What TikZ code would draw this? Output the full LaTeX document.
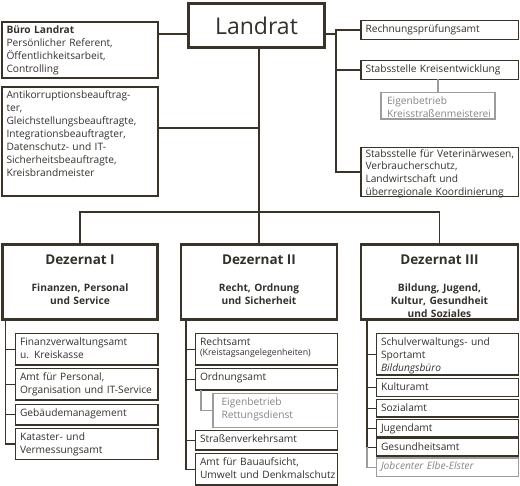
\documentclass[tikz,border=0pt]{standalone}
\usepackage{fontspec}
\setmainfont{Open Sans}
\definecolor{dk}{HTML}{3A3327}
\definecolor{txt}{HTML}{33312C}
\definecolor{gr}{HTML}{9C9C9C}
\definecolor{grt}{HTML}{858585}
\tikzset{
  base/.style={draw=dk, text=txt, font=\fontsize{10.2}{13}\selectfont, inner xsep=4.5pt, inner ysep=3pt, outer sep=0pt, align=left},
  sub/.style={base, line width=1.3pt},
  side/.style={base, line width=2pt},
  grbox/.style={base, draw=gr, text=grt, line width=1.2pt},
  dezbox/.style={base, line width=2.7pt, align=center},
  chief/.style={draw=dk, text=txt, line width=3.3pt, font=\fontsize{23}{26}\selectfont, outer sep=0pt, inner sep=0pt},
  conn/.style={draw=dk, line width=1.1pt},
  gconn/.style={draw=gr, line width=1.1pt},
}
% #1 text height, #2 style, #3 name, #4 x1, #5 y1, #6 x2, #7 y2, #8 text
\newcommand\OrgBox[8][9]{%
  \pgfmathsetmacro\obW{#6-#4}%
  \pgfmathsetmacro\obH{#7-#5}%
  \pgfmathsetmacro\obTW{#6-#4-9}%
  \pgfmathsetmacro\obD{#7-#5-6-#1}%
  \node[#2, anchor=north west, minimum width=\obW pt, minimum height=\obH pt,
        text width=\obTW pt, text height=#1pt, text depth=\obD pt] (#3) at (#4,#5) {#8};}
\newcommand\DezTitle[1]{{\fontsize{13.5}{16}\selectfont\bfseries #1}}
\begin{document}
\begin{tikzpicture}[x=1pt,y=-1pt]
\useasboundingbox (0,0) rectangle (520,486);
% top level
\node[chief, anchor=north west, minimum width=135.6pt, minimum height=43.6pt] (landrat) at (188.7,3.7) {Landrat};
\OrgBox{side}{buero}{2}{22}{158}{78}{\textbf{Büro Landrat}\\Persönlicher Referent,\\Öffentlichkeitsarbeit,\\Controlling}
\OrgBox{side}{anti}{2}{87}{158}{196.5}{Antikorruptionsbeauftrag-\\ter,\\Gleichstellungsbeauftragte,\\Integrationsbeauftragter,\\Datenschutz- und IT-\\Sicherheitsbeauftragte,\\Kreisbrandmeister}
\OrgBox{sub}{rech}{361}{20.5}{518.5}{39.5}{Rechnungsprüfungsamt}
\OrgBox{sub}{kreis}{361}{60.5}{518.5}{79.5}{Stabsstelle Kreisentwicklung}
\OrgBox{grbox}{strm}{381}{92.5}{495}{119}{\hspace*{1.5pt}Eigenbetrieb\\\hspace*{1.5pt}\mbox{Kreisstraßenmeisterei}}
\OrgBox[7]{sub}{vet}{361}{147.5}{518.5}{196.5}{\fontsize{10.2}{12.3}\selectfont \mbox{Stabsstelle für Veterinärwesen,}\\Verbraucherschutz,\\Landwirtschaft und\\\mbox{überregionale Koordinierung}}
% Dezernate
\OrgBox[17]{dezbox}{dez1}{2.3}{244.3}{157.7}{319.7}{\DezTitle{Dezernat I}\\[14pt]{\bfseries Finanzen, Personal\\und Service}}
\OrgBox[17]{dezbox}{dez2}{181}{244.3}{337}{319.7}{\DezTitle{Dezernat II}\\[14pt]{\bfseries Recht, Ordnung\\und Sicherheit}}
\OrgBox[17]{dezbox}{dez3}{361}{244.3}{518}{319.7}{\DezTitle{Dezernat III}\\[14pt]{\bfseries Bildung, Jugend,\\Kultur, Gesundheit\\und Soziales}}
% Dezernat I
\OrgBox{sub}{fin}{15.5}{333.5}{158}{365}{Finanzverwaltungsamt\\u. Kreiskasse}
\OrgBox{sub}{pers}{15.5}{368.5}{158}{400}{Amt für Personal,\\\mbox{Organisation und IT-Service}}
\OrgBox{sub}{geb}{15.5}{404.5}{158}{425}{Gebäudemanagement}
\OrgBox{sub}{kat}{15.5}{428.5}{158}{459.5}{Kataster- und\\Vermessungsamt}
% Dezernat II
\OrgBox{sub}{recht}{195.5}{333.5}{337.5}{365}{Rechtsamt\\[-3pt]{\fontsize{8.8}{10}\selectfont(Kreistagsangelegenheiten)}}
\OrgBox{sub}{ord}{195.5}{368.5}{337.5}{390}{Ordnungsamt}
\OrgBox{grbox}{rett}{213}{393.5}{337.5}{427.5}{\hspace*{4pt}Eigenbetrieb\\\hspace*{4pt}Rettungsdienst}
\OrgBox{sub}{strv}{195.5}{430.5}{337.5}{450}{Straßenverkehrsamt}
\OrgBox{sub}{bau}{195.5}{453.5}{337.5}{485}{Amt für Bauaufsicht,\\\mbox{Umwelt und Denkmalschutz}}
% Dezernat III
\OrgBox{sub}{schul}{376.5}{333.5}{518.5}{375}{Schulverwaltungs- und\\Sportamt\\\textit{Bildungsbüro}}
\OrgBox{sub}{kult}{376.5}{378.5}{518.5}{396.5}{Kulturamt}
\OrgBox{sub}{soz}{376.5}{399.5}{518.5}{417}{Sozialamt}
\OrgBox{sub}{jug}{376.5}{419.5}{518.5}{437}{Jugendamt}
\OrgBox{sub}{ges}{376.5}{438.5}{518.5}{456}{Gesundheitsamt}
\OrgBox{grbox}{job}{376.5}{458}{518.5}{476.5}{\textit{Jobcenter Elbe-Elster}}
% connectors top
\coordinate (rtrunk) at (336,0);
\draw[conn] (landrat.east |- 0,34) -- (rtrunk |- 0,34);
\draw[conn] (rech.west) -- (rech.west -| rtrunk) |- (vet.west);
\draw[conn] (kreis.west) -- (kreis.west -| rtrunk);
\draw[gconn] (kreis.south -| strm.north) -- (strm.north);
\draw[conn] (buero.east |- 0,34) -- (landrat.west |- 0,34);
\draw[conn] (landrat.south -| dez2.north) -- (dez2.north);
\draw[conn] (anti.east |- 0,128) -- (dez2.north |- 0,128);
\draw[conn] (dez1.north) -- (dez1.north |- 0,212) -| (dez3.north);
% branches
\coordinate (b1) at (5.5,0);
\coordinate (b2) at (186,0);
\coordinate (b3) at (367,0);
\coordinate (b2g) at (201,0);
\draw[conn] (dez1.south -| b1) |- (kat.west);
\foreach \n in {fin,pers,geb} \draw[conn] (\n.west) -- (\n.west -| b1);
\draw[conn] (dez2.south -| b2) |- (bau.west);
\foreach \n in {recht,ord,strv} \draw[conn] (\n.west) -- (\n.west -| b2);
\draw[gconn] (ord.south -| b2g) |- (rett.west);
\draw[conn] (dez3.south -| b3) |- (ges.west);
\foreach \n in {schul,kult,soz,jug} \draw[conn] (\n.west) -- (\n.west -| b3);
\draw[gconn] (ges.west -| b3) |- (job.west);
\end{tikzpicture}
\end{document}
